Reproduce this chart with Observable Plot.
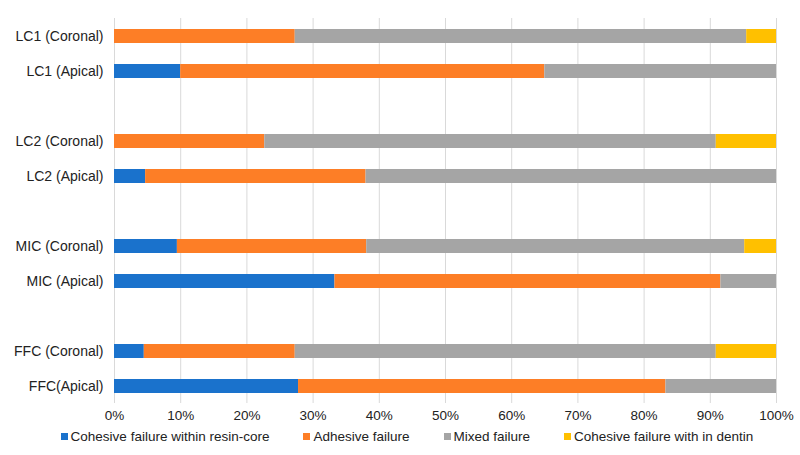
<!DOCTYPE html>
<html>
<head>
<meta charset="utf-8">
<script src="https://cdn.jsdelivr.net/npm/d3@7"></script>
<script src="https://cdn.jsdelivr.net/npm/@observablehq/plot@0.6"></script>
<style>
  html, body { margin: 0; padding: 0; background: #fff; }
  body { width: 800px; height: 455px; overflow: hidden; font-family: "Liberation Sans", Arial, sans-serif; }
  #legend { display: flex; justify-content: center; gap: 34px; font-size: 13.5px; color: #222; margin-top: 4px; padding-left: 14px; }
  #legend .item { display: flex; align-items: center; gap: 3px; }
  #legend .sw { width: 7px; height: 7px; display: inline-block; }
</style>
</head>
<body>
<div id="chart"></div>
<div id="legend"></div>
<script>
// Rows from top to bottom; blank keys make the gaps between groups
const rows = ["LC1 (Coronal)", "LC1 (Apical)", "_gap1", "LC2 (Coronal)", "LC2 (Apical)", "_gap2",
              "MIC (Coronal)", "MIC (Apical)", "_gap3", "FFC (Coronal)", "FFC(Apical)"];
const categories = ["LC1 (Coronal)", "LC1 (Apical)", "LC2 (Coronal)", "LC2 (Apical)",
                    "MIC (Coronal)", "MIC (Apical)", "FFC (Coronal)", "FFC(Apical)"];
const seriesNames = ["Cohesive failure within resin-core", "Adhesive failure", "Mixed failure", "Cohesive failure with in dentin"];
const seriesColors = ["#1a72cc", "#fd7e26", "#a5a5a5", "#ffc000"];
// percentages per category (same order as categories)
const cohesiveResin = [0, 10, 0, 4.7, 9.5, 33.3, 4.5, 27.8];
const adhesive      = [27.3, 55, 22.7, 33.3, 28.6, 58.3, 22.8, 55.5];
const mixed         = [68.2, 35, 68.2, 62.0, 57.1, 8.4, 63.6, 16.7];
const cohesiveDentin= [4.5, 0, 9.1, 0, 4.8, 0, 9.1, 0];
const xTicks = [0, 10, 20, 30, 40, 50, 60, 70, 80, 90, 100];

const seriesValues = [cohesiveResin, adhesive, mixed, cohesiveDentin];
const data = [];
categories.forEach((c, i) => {
  seriesNames.forEach((s, j) => {
    data.push({category: c, series: s, order: j, value: seriesValues[j][i]});
  });
});

const chart = Plot.plot({
  width: 800,
  height: 425,
  marginTop: 18,
  marginBottom: 22,
  marginLeft: 114,
  marginRight: 24,
  style: {fontFamily: "'Liberation Sans', Arial, sans-serif", fontSize: "13px", color: "#222", background: "#fff"},
  x: {domain: [0, 100], ticks: xTicks, tickFormat: d => d + "%", label: null, tickSize: 0, tickPadding: 7},
  y: {domain: rows, paddingInner: 0.6, paddingOuter: 0.3, label: null, tickSize: 0, tickPadding: 11,
      tickFormat: d => d.startsWith("_gap") ? "" : d},
  color: {domain: seriesNames, range: seriesColors},
  marks: [
    Plot.gridX(xTicks, {stroke: "#d9d9d9", strokeOpacity: 1, strokeWidth: 1}),
    Plot.barX(data, Plot.stackX({
      x: "value", y: "category", fill: "series", order: "order"
    })),
    Plot.axisY({tickSize: 0, tickPadding: 11, fontSize: 14, tickFormat: d => d.startsWith("_gap") ? "" : d}),
    Plot.axisX({ticks: xTicks, tickFormat: d => d + "%", tickSize: 0, tickPadding: 7, fontSize: 13.5})
  ]
});
document.getElementById("chart").appendChild(chart);

const legend = d3.select("#legend");
seriesNames.forEach((s, i) => {
  const it = legend.append("div").attr("class", "item");
  it.append("span").attr("class", "sw").style("background", seriesColors[i]);
  it.append("span").text(s);
});
</script>
</body>
</html>
